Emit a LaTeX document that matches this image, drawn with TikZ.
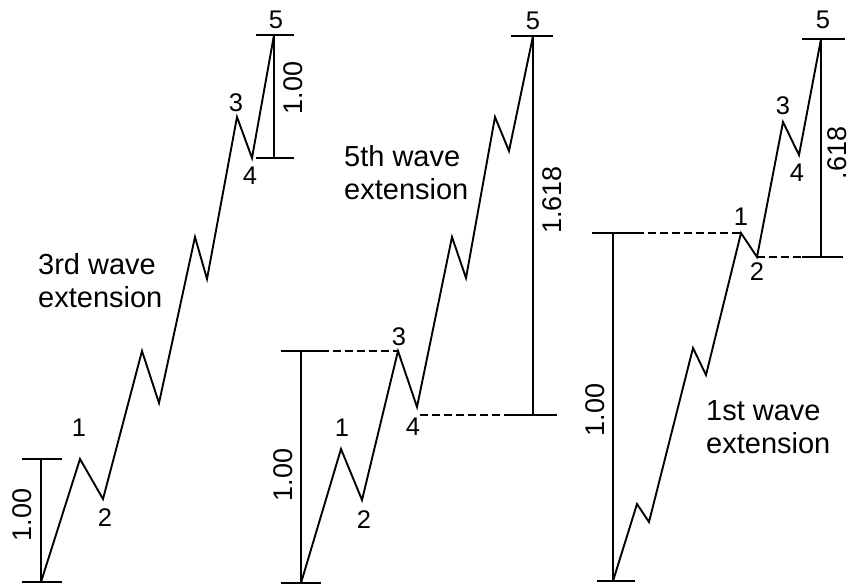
\documentclass[tikz,border=0pt]{standalone}
\usepackage{fontspec}
\setmainfont{Liberation Sans}
\begin{document}
\begin{tikzpicture}[x=1pt,y=-1pt,
  wave/.style={line width=1.9pt, line join=miter},
  bar/.style={line width=1.9pt},
  guide/.style={line width=1.9pt, dash pattern=on 8pt off 4pt},
  wnum/.style={inner sep=0pt, font=\fontsize{25.5}{28}\selectfont},
  ratio/.style={inner sep=0pt, rotate=90, font=\fontsize{27}{30}\selectfont},
  caption/.style={inner sep=0pt, anchor=base west, align=left, font=\fontsize{29}{33}\selectfont}]
\useasboundingbox (0,0) rectangle (853,588);

% ---------- Panel 1: 3rd wave extension ----------
\coordinate (a0) at (41,582);
\coordinate (a1) at (80,459);
\coordinate (a2) at (103,499);
\coordinate (a3a) at (142,351);
\coordinate (a3b) at (159,403);
\coordinate (a3c) at (195,237);
\coordinate (a3d) at (207,279);
\coordinate (a3) at (237,117);
\coordinate (a4) at (252,158);
\coordinate (a5) at (274,35);
\draw[wave] (a0) -- (a1) -- (a2) -- (a3a) -- (a3b) -- (a3c) -- (a3d) -- (a3) -- (a4) -- (a5);
\coordinate (aLt) at (41,459);
\draw[bar] (22,459) -- (62,459);
\draw[bar] (22,582) -- (62,582);
\draw[bar] (aLt) -- (a0);
\coordinate (aRb) at (274,158);
\draw[bar] (256,35) -- (294,35);
\draw[bar] (256,158) -- (294,158);
\draw[bar] (a5) -- (aRb);
\node[ratio] (ar1) at (22,515) {1.00};
\node[ratio] (ar2) at (293,88) {1.00};
\node[wnum] (al1) at (79,428) {1};
\node[wnum] (al2) at (105,518) {2};
\node[wnum] (al3) at (236,103) {3};
\node[wnum] (al4) at (250,176) {4};
\node[wnum] (al5) at (276,20) {5};
\node[caption] (acap) at (38,307) {3rd wave\\extension};

% ---------- Panel 2: 5th wave extension ----------
\coordinate (b0) at (301,583);
\coordinate (b1) at (341,449);
\coordinate (b2) at (362,500);
\coordinate (b3) at (398,351);
\coordinate (b4) at (417,407);
\coordinate (b5a) at (452,237);
\coordinate (b5b) at (466,278);
\coordinate (b5c) at (495,117);
\coordinate (b5d) at (509,151);
\coordinate (b5) at (533,36);
\draw[wave] (b0) -- (b1) -- (b2) -- (b3) -- (b4) -- (b5a) -- (b5b) -- (b5c) -- (b5d) -- (b5);
\coordinate (bLt) at (301,351);
\draw[bar] (281,351) -- (321,351);
\draw[bar] (281,583) -- (321,583);
\draw[bar] (bLt) -- (b0);
\draw[guide] (321,351) -- (b3);
\coordinate (bRb) at (533,415);
\draw[guide] (420,415) -- (508,415);
\draw[bar] (508,415) -- (557,415);
\draw[bar] (511,36) -- (553,36);
\draw[bar] (b5) -- (bRb);
\node[ratio] (br1) at (283,475) {1.00};
\node[ratio] (br2) at (552,200) {1.618};
\node[wnum] (bl1) at (342,428) {1};
\node[wnum] (bl2) at (364,520) {2};
\node[wnum] (bl3) at (399,337) {3};
\node[wnum] (bl4) at (413,427) {4};
\node[wnum] (bl5) at (533,21) {5};
\node[caption] (bcap) at (344,200) {5th wave\\extension};

% ---------- Panel 3: 1st wave extension ----------
\coordinate (c0) at (613,581);
\coordinate (c1a) at (637,504);
\coordinate (c1b) at (649,522);
\coordinate (c1c) at (693,348);
\coordinate (c1d) at (706,375);
\coordinate (c1) at (741,233);
\coordinate (c2) at (757,257);
\coordinate (c3) at (783,122);
\coordinate (c4) at (799,155);
\coordinate (c5) at (821,39);
\draw[wave] (c0) -- (c1a) -- (c1b) -- (c1c) -- (c1d) -- (c1) -- (c2) -- (c3) -- (c4) -- (c5);
\coordinate (cLt) at (613,233);
\draw[bar] (592,233) -- (636,233);
\draw[bar] (597,581) -- (635,581);
\draw[bar] (cLt) -- (c0);
\draw[guide] (636,233) -- (c1);
\coordinate (cRb) at (821,257);
\draw[guide] (c2) -- (802,257);
\draw[bar] (802,257) -- (843,257);
\draw[bar] (802,39) -- (845,39);
\draw[bar] (c5) -- (cRb);
\node[ratio] (cr1) at (595,410) {1.00};
\node[ratio] (cr2) at (837,153) {.618};
\node[wnum] (cl1) at (741,217) {1};
\node[wnum] (cl2) at (757,272) {2};
\node[wnum] (cl3) at (783,106) {3};
\node[wnum] (cl4) at (797,173) {4};
\node[wnum] (cl5) at (823,20) {5};
\node[caption] (ccap) at (706,453) {1st wave\\extension};
\end{tikzpicture}
\end{document}
